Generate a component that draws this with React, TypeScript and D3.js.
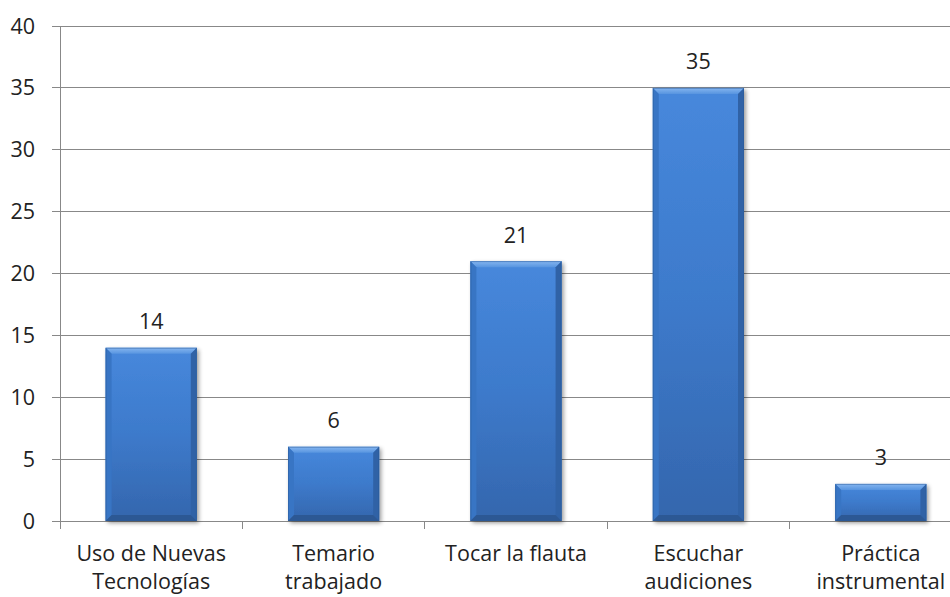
import React from "react";
import * as d3 from "d3";

const categories: string[][] = [
  ["Uso de Nuevas", "Tecnologías"],
  ["Temario", "trabajado"],
  ["Tocar la flauta"],
  ["Escuchar", "audiciones"],
  ["Práctica", "instrumental"],
];
const values: number[] = [14, 6, 21, 35, 3];
const yTicks: number[] = [0, 5, 10, 15, 20, 25, 30, 35, 40];

const W = 950;
const H = 597;
const left = 60;
const right = 972;
const top = 26;
const bottom = 521;
const FONT = "'Open Sans', 'DejaVu Sans', sans-serif";
const FS = 21.5;

export default function App() {
  const x = d3
    .scaleBand<number>()
    .domain(d3.range(values.length))
    .range([left, right])
    .paddingInner(0.5)
    .paddingOuter(0.25);
  const y = d3.scaleLinear().domain([0, 40]).range([bottom, top]);
  const step = x.step();
  const bw = x.bandwidth();
  const bev = 6;

  return (
    <svg
      width={W}
      height={H}
      style={{ position: "absolute", left: 0, top: 0, background: "#fff" }}
      fontFamily={FONT}
    >
      <defs>
        <linearGradient id="face" x1="0" y1="0" x2="0" y2="1">
          <stop offset="0" stopColor="#4788dc" />
          <stop offset="0.5" stopColor="#3d7acb" />
          <stop offset="1" stopColor="#3466ad" />
        </linearGradient>
        <linearGradient id="topBev" x1="0" y1="0" x2="0" y2="1">
          <stop offset="0" stopColor="#86b6f0" />
          <stop offset="1" stopColor="#5895e0" />
        </linearGradient>
        <filter id="shadow" x="-20%" y="-20%" width="140%" height="140%">
          <feGaussianBlur in="SourceAlpha" stdDeviation="2" />
          <feOffset dx="2" dy="2" result="b" />
          <feComponentTransfer>
            <feFuncA type="linear" slope="0.4" />
          </feComponentTransfer>
          <feMerge>
            <feMergeNode />
            <feMergeNode in="SourceGraphic" />
          </feMerge>
        </filter>
      </defs>

      {/* gridlines */}
      {yTicks.map((t) => (
        <line
          key={"g" + t}
          x1={left - 8}
          x2={W}
          y1={y(t)}
          y2={y(t)}
          stroke="#888"
          strokeWidth={1}
          shapeRendering="crispEdges"
        />
      ))}
      {yTicks.map((t) => (
        <text
          key={"t" + t}
          x={left - 25}
          y={y(t)}
          dy="0.35em"
          textAnchor="end"
          fontSize={FS}
          fill="#222"
        >
          {t}
        </text>
      ))}
      {/* axis */}
      <line
        x1={left}
        x2={left}
        y1={top}
        y2={bottom + 8}
        stroke="#888"
        shapeRendering="crispEdges"
      />
      {d3.range(values.length + 1).map((i) => (
        <line
          key={"ct" + i}
          x1={left + i * step}
          x2={left + i * step}
          y1={bottom}
          y2={bottom + 8}
          stroke="#888"
          shapeRendering="crispEdges"
        />
      ))}

      {/* bars */}
      {values.map((v, i) => {
        const x0 = x(i)!;
        const x1 = x0 + bw;
        const y0 = y(v);
        const y1 = y(0);
        return (
          <g key={"b" + i}>
            <rect
              x={x0}
              y={y0}
              width={bw}
              height={y1 - y0}
              fill="url(#face)"
              filter="url(#shadow)"
            />
            <polygon
              points={`${x0},${y0} ${x1},${y0} ${x1 - bev},${y0 + bev} ${x0 + bev},${y0 + bev}`}
              fill="url(#topBev)"
            />
            <polygon
              points={`${x0},${y0} ${x0 + bev},${y0 + bev} ${x0 + bev},${y1 - bev} ${x0},${y1}`}
              fill="#3875c4"
            />
            <polygon
              points={`${x1},${y0} ${x1 - bev},${y0 + bev} ${x1 - bev},${y1 - bev} ${x1},${y1}`}
              fill="#3062a6"
            />
            <polygon
              points={`${x0},${y1} ${x0 + bev},${y1 - bev} ${x1 - bev},${y1 - bev} ${x1},${y1}`}
              fill="#2c5894"
            />
            <rect
              x={x0 + 0.5}
              y={y0 + 0.5}
              width={bw - 1}
              height={y1 - y0 - 1}
              fill="none"
              stroke="#2a5a98"
              strokeOpacity={0.5}
            />
            <text
              x={x0 + bw / 2}
              y={y0 - 26}
              dy="0.35em"
              textAnchor="middle"
              fontSize={FS}
              fill="#222"
            >
              {v}
            </text>
          </g>
        );
      })}

      {/* category labels */}
      {categories.map((lines, i) => (
        <text
          key={"c" + i}
          x={x(i)! + bw / 2}
          y={553}
          textAnchor="middle"
          fontSize={FS}
          fill="#222"
        >
          {lines.map((l, j) => (
            <tspan key={j} x={x(i)! + bw / 2} dy={j === 0 ? "0.35em" : 28}>
              {l}
            </tspan>
          ))}
        </text>
      ))}
    </svg>
  );
}
